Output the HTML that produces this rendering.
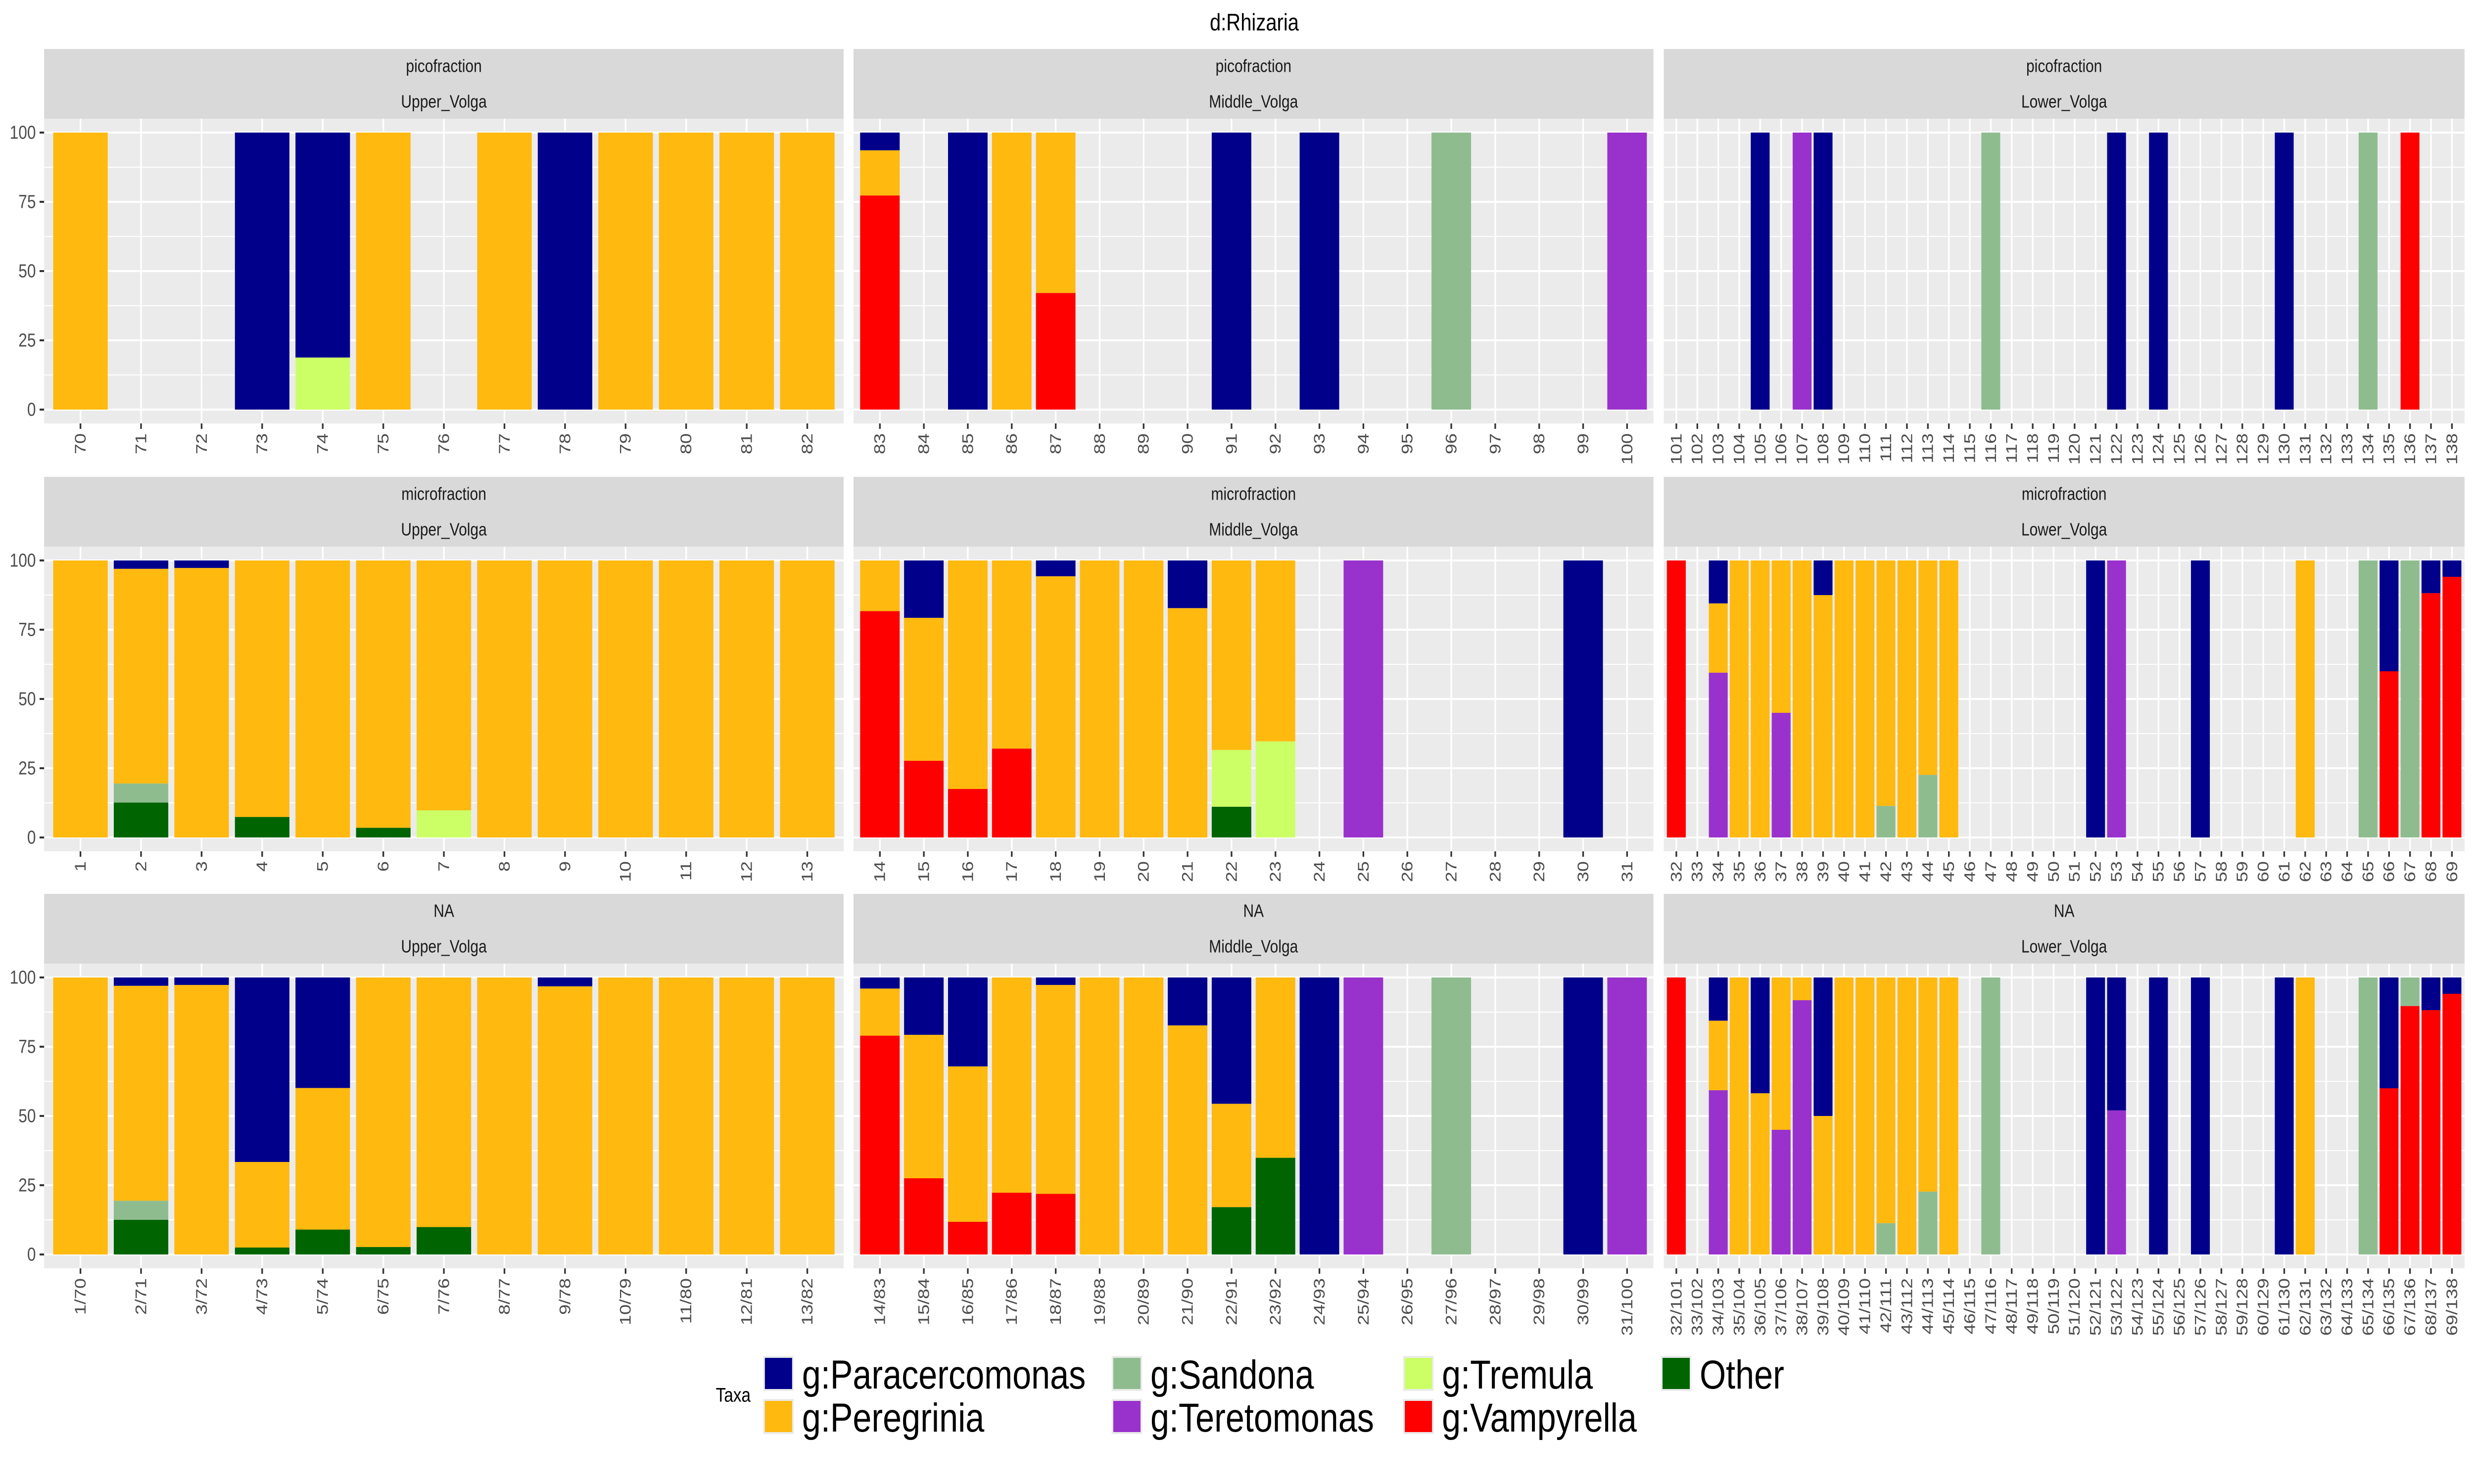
<!DOCTYPE html>
<html><head><meta charset="utf-8"><title>d:Rhizaria</title>
<style>
html,body{margin:0;padding:0;background:#fff;width:100%;height:100%;overflow:hidden;}
svg{display:block;position:absolute;left:0;top:0;width:100vw;height:100vh;font-family:"Liberation Sans",sans-serif;}
</style></head>
<body>
<svg id="chart" viewBox="0 0 6000 3000" preserveAspectRatio="none" xmlns="http://www.w3.org/2000/svg">
<rect width="6000" height="3000" fill="#fff"/>
<text x="3042" y="46" font-size="48" text-anchor="middle" dominant-baseline="central" fill="#000">d:Rhizaria</text>
</svg>
<script>
// ---- taxa (stack order bottom -> top) ----
const taxa = ["Other","g:Vampyrella","g:Tremula","g:Teretomonas","g:Sandona","g:Peregrinia","g:Paracercomonas"];
const taxaColors = ["#006400","#FF0000","#CCFF66","#9932CC","#8FBC8F","#FFB90F","#00008B"];

// ---- categories ----
const catsR1C1 = ["70","71","72","73","74","75","76","77","78","79","80","81","82"];
const catsR1C2 = ["83","84","85","86","87","88","89","90","91","92","93","94","95","96","97","98","99","100"];
const catsR1C3 = ["101","102","103","104","105","106","107","108","109","110","111","112","113","114","115","116","117","118","119","120","121","122","123","124","125","126","127","128","129","130","131","132","133","134","135","136","137","138"];
const catsR2C1 = ["1","2","3","4","5","6","7","8","9","10","11","12","13"];
const catsR2C2 = ["14","15","16","17","18","19","20","21","22","23","24","25","26","27","28","29","30","31"];
const catsR2C3 = ["32","33","34","35","36","37","38","39","40","41","42","43","44","45","46","47","48","49","50","51","52","53","54","55","56","57","58","59","60","61","62","63","64","65","66","67","68","69"];
const catsR3C1 = ["1/70","2/71","3/72","4/73","5/74","6/75","7/76","8/77","9/78","10/79","11/80","12/81","13/82"];
const catsR3C2 = ["14/83","15/84","16/85","17/86","18/87","19/88","20/89","21/90","22/91","23/92","24/93","25/94","26/95","27/96","28/97","29/98","30/99","31/100"];
const catsR3C3 = ["32/101","33/102","34/103","35/104","36/105","37/106","38/107","39/108","40/109","41/110","42/111","43/112","44/113","45/114","46/115","47/116","48/117","49/118","50/119","51/120","52/121","53/122","54/123","55/124","56/125","57/126","58/127","59/128","60/129","61/130","62/131","63/132","64/133","65/134","66/135","67/136","68/137","69/138"];

// ---- series: picofraction / Upper_Volga ----
const r1c1Other = [0,0,0,0,0,0,0,0,0,0,0,0,0];
const r1c1Vamp  = [0,0,0,0,0,0,0,0,0,0,0,0,0];
const r1c1Trem  = [0,0,0,0,18.8,0,0,0,0,0,0,0,0];
const r1c1Teret = [0,0,0,0,0,0,0,0,0,0,0,0,0];
const r1c1Sand  = [0,0,0,0,0,0,0,0,0,0,0,0,0];
const r1c1Pereg = [100,0,0,0,0,100,0,100,0,100,100,100,100];
const r1c1Para  = [0,0,0,100,81.2,0,0,0,100,0,0,0,0];
// picofraction / Middle_Volga
const r1c2Other = [0,0,0,0,0,0,0,0,0,0,0,0,0,0,0,0,0,0];
const r1c2Vamp  = [77.3,0,0,0,42.1,0,0,0,0,0,0,0,0,0,0,0,0,0];
const r1c2Trem  = [0,0,0,0,0,0,0,0,0,0,0,0,0,0,0,0,0,0];
const r1c2Teret = [0,0,0,0,0,0,0,0,0,0,0,0,0,0,0,0,0,100];
const r1c2Sand  = [0,0,0,0,0,0,0,0,0,0,0,0,0,100,0,0,0,0];
const r1c2Pereg = [16.3,0,0,100,57.9,0,0,0,0,0,0,0,0,0,0,0,0,0];
const r1c2Para  = [6.4,0,100,0,0,0,0,0,100,0,100,0,0,0,0,0,0,0];
// picofraction / Lower_Volga
const r1c3Other = [0,0,0,0,0,0,0,0,0,0, 0,0,0,0,0,0,0,0,0,0, 0,0,0,0,0,0,0,0,0,0, 0,0,0,0,0,0,0,0];
const r1c3Vamp  = [0,0,0,0,0,0,0,0,0,0, 0,0,0,0,0,0,0,0,0,0, 0,0,0,0,0,0,0,0,0,0, 0,0,0,0,0,100,0,0];
const r1c3Trem  = [0,0,0,0,0,0,0,0,0,0, 0,0,0,0,0,0,0,0,0,0, 0,0,0,0,0,0,0,0,0,0, 0,0,0,0,0,0,0,0];
const r1c3Teret = [0,0,0,0,0,0,100,0,0,0, 0,0,0,0,0,0,0,0,0,0, 0,0,0,0,0,0,0,0,0,0, 0,0,0,0,0,0,0,0];
const r1c3Sand  = [0,0,0,0,0,0,0,0,0,0, 0,0,0,0,0,100,0,0,0,0, 0,0,0,0,0,0,0,0,0,0, 0,0,0,100,0,0,0,0];
const r1c3Pereg = [0,0,0,0,0,0,0,0,0,0, 0,0,0,0,0,0,0,0,0,0, 0,0,0,0,0,0,0,0,0,0, 0,0,0,0,0,0,0,0];
const r1c3Para  = [0,0,0,0,100,0,0,100,0,0, 0,0,0,0,0,0,0,0,0,0, 0,100,0,100,0,0,0,0,0,100, 0,0,0,0,0,0,0,0];

// ---- microfraction / Upper_Volga ----
const r2c1Other = [0,12.6,0,7.4,0,3.5,0,0,0,0,0,0,0];
const r2c1Vamp  = [0,0,0,0,0,0,0,0,0,0,0,0,0];
const r2c1Trem  = [0,0,0,0,0,0,9.8,0,0,0,0,0,0];
const r2c1Teret = [0,0,0,0,0,0,0,0,0,0,0,0,0];
const r2c1Sand  = [0,6.9,0,0,0,0,0,0,0,0,0,0,0];
const r2c1Pereg = [100,77.5,97.3,92.6,100,96.5,90.2,100,100,100,100,100,100];
const r2c1Para  = [0,3,2.7,0,0,0,0,0,0,0,0,0,0];
// microfraction / Middle_Volga
const r2c2Other = [0,0,0,0,0,0,0,0,11.1,0,0,0,0,0,0,0,0,0];
const r2c2Vamp  = [81.7,27.7,17.5,32.1,0,0,0,0,0,0,0,0,0,0,0,0,0,0];
const r2c2Trem  = [0,0,0,0,0,0,0,0,20.5,34.7,0,0,0,0,0,0,0,0];
const r2c2Teret = [0,0,0,0,0,0,0,0,0,0,0,100,0,0,0,0,0,0];
const r2c2Sand  = [0,0,0,0,0,0,0,0,0,0,0,0,0,0,0,0,0,0];
const r2c2Pereg = [18.3,51.6,82.5,67.9,94.3,100,100,82.8,68.4,65.3,0,0,0,0,0,0,0,0];
const r2c2Para  = [0,20.7,0,0,5.7,0,0,17.2,0,0,0,0,0,0,0,0,100,0];
// microfraction / Lower_Volga
const r2c3Other = [0,0,0,0,0,0,0,0,0,0, 0,0,0,0,0,0,0,0,0,0, 0,0,0,0,0,0,0,0,0,0, 0,0,0,0,0,0,0,0];
const r2c3Vamp  = [100,0,0,0,0,0,0,0,0,0, 0,0,0,0,0,0,0,0,0,0, 0,0,0,0,0,0,0,0,0,0, 0,0,0,0,60,0,88.2,94.1];
const r2c3Trem  = [0,0,0,0,0,0,0,0,0,0, 0,0,0,0,0,0,0,0,0,0, 0,0,0,0,0,0,0,0,0,0, 0,0,0,0,0,0,0,0];
const r2c3Teret = [0,0,59.5,0,0,45,0,0,0,0, 0,0,0,0,0,0,0,0,0,0, 0,100,0,0,0,0,0,0,0,0, 0,0,0,0,0,0,0,0];
const r2c3Sand  = [0,0,0,0,0,0,0,0,0,0, 11.4,0,22.6,0,0,0,0,0,0,0, 0,0,0,0,0,0,0,0,0,0, 0,0,0,100,0,100,0,0];
const r2c3Pereg = [0,0,25,100,100,55,100,87.5,100,100, 88.6,100,77.4,100,0,0,0,0,0,0, 0,0,0,0,0,0,0,0,0,0, 100,0,0,0,0,0,0,0];
const r2c3Para  = [0,0,15.5,0,0,0,0,12.5,0,0, 0,0,0,0,0,0,0,0,0,0, 100,0,0,0,0,100,0,0,0,0, 0,0,0,0,40,0,11.8,5.9];

// ---- NA / Upper_Volga ----
const r3c1Other = [0,12.5,0,2.5,9,2.7,9.9,0,0,0,0,0,0];
const r3c1Vamp  = [0,0,0,0,0,0,0,0,0,0,0,0,0];
const r3c1Trem  = [0,0,0,0,0,0,0,0,0,0,0,0,0];
const r3c1Teret = [0,0,0,0,0,0,0,0,0,0,0,0,0];
const r3c1Sand  = [0,6.9,0,0,0,0,0,0,0,0,0,0,0];
const r3c1Pereg = [100,77.6,97.3,30.9,51.1,97.3,90.1,100,96.8,100,100,100,100];
const r3c1Para  = [0,3,2.7,66.6,39.9,0,0,0,3.2,0,0,0,0];
// NA / Middle_Volga
const r3c2Other = [0,0,0,0,0,0,0,0,17.1,34.9,0,0,0,0,0,0,0,0];
const r3c2Vamp  = [79,27.5,11.8,22.3,21.9,0,0,0,0,0,0,0,0,0,0,0,0,0];
const r3c2Trem  = [0,0,0,0,0,0,0,0,0,0,0,0,0,0,0,0,0,0];
const r3c2Teret = [0,0,0,0,0,0,0,0,0,0,0,100,0,0,0,0,0,100];
const r3c2Sand  = [0,0,0,0,0,0,0,0,0,0,0,0,0,100,0,0,0,0];
const r3c2Pereg = [17,51.8,56.1,77.7,75.4,100,100,82.7,37.3,65.1,0,0,0,0,0,0,0,0];
const r3c2Para  = [4,20.7,32.1,0,2.7,0,0,17.3,45.6,0,100,0,0,0,0,0,100,0];
// NA / Lower_Volga
const r3c3Other = [0,0,0,0,0,0,0,0,0,0, 0,0,0,0,0,0,0,0,0,0, 0,0,0,0,0,0,0,0,0,0, 0,0,0,0,0,0,0,0];
const r3c3Vamp  = [100,0,0,0,0,0,0,0,0,0, 0,0,0,0,0,0,0,0,0,0, 0,0,0,0,0,0,0,0,0,0, 0,0,0,0,60,89.7,88.2,94.1];
const r3c3Trem  = [0,0,0,0,0,0,0,0,0,0, 0,0,0,0,0,0,0,0,0,0, 0,0,0,0,0,0,0,0,0,0, 0,0,0,0,0,0,0,0];
const r3c3Teret = [0,0,59.3,0,0,45,91.8,0,0,0, 0,0,0,0,0,0,0,0,0,0, 0,52,0,0,0,0,0,0,0,0, 0,0,0,0,0,0,0,0];
const r3c3Sand  = [0,0,0,0,0,0,0,0,0,0, 11.3,0,22.7,0,0,100,0,0,0,0, 0,0,0,0,0,0,0,0,0,0, 0,0,0,100,0,10.3,0,0];
const r3c3Pereg = [0,0,25.1,100,58.2,55,8.2,50,100,100, 88.7,100,77.3,100,0,0,0,0,0,0, 0,0,0,0,0,0,0,0,0,0, 100,0,0,0,0,0,0,0];
const r3c3Para  = [0,0,15.6,0,41.8,0,0,50,0,0, 0,0,0,0,0,0,0,0,0,0, 100,48,0,100,0,100,0,0,0,100, 0,0,0,0,40,0,11.8,5.9];

const yTicks = [0,25,50,75,100];
const yMinor = [12.5,37.5,62.5,87.5];

const NS = "http://www.w3.org/2000/svg";
const svg = document.getElementById("chart");
function mk(tag, attrs, parent){
  const e = document.createElementNS(NS, tag);
  for (const k in attrs) e.setAttribute(k, attrs[k]);
  (parent||svg).appendChild(e);
  return e;
}

const colX = [[107,2046],[2070,4010],[4035,5977]];
const stripTop = [99,964,1807];
const STRIP_H = 141, PANEL_H = 616;

function drawPanel(r, c, fraction, region, cats, series){
  const x0 = colX[c][0], x1 = colX[c][1], W = x1 - x0;
  const sTop = stripTop[r], pTop = sTop + STRIP_H, pBot = pTop + PANEL_H;
  const g = mk("g", {});
  
  
  const yS = v => pTop + 28 + (100 - v) * 5.6;
  const unit = W / (cats.length + 0.2);
  const xS = i => x0 + (0.6 + i) * unit;

  const strip = mk("rect", {x:x0, y:sTop, width:W, height:STRIP_H, fill:"#D9D9D9"}, g);
  
  
  const t1 = mk("text", {x:(x0+x1)/2, y:sTop+35, "font-size":36, fill:"#1A1A1A", "text-anchor":"middle", "dominant-baseline":"central"}, g);
  t1.textContent = fraction;
  
  
  const t2 = mk("text", {x:(x0+x1)/2, y:sTop+107, "font-size":36, fill:"#1A1A1A", "text-anchor":"middle", "dominant-baseline":"central"}, g);
  t2.textContent = region;
  
  

  const bg = mk("rect", {x:x0, y:pTop, width:W, height:PANEL_H, fill:"#EBEBEB"}, g);
  
  
  yMinor.forEach(v => {
    const l = mk("line", {x1:x0, x2:x1, y1:yS(v), y2:yS(v), stroke:"#fff", "stroke-width":2}, g);
    
    
  });
  yTicks.forEach(v => {
    const l = mk("line", {x1:x0, x2:x1, y1:yS(v), y2:yS(v), stroke:"#fff", "stroke-width":4}, g);
    
    
  });
  cats.forEach((cat, i) => {
    const l = mk("line", {x1:xS(i), x2:xS(i), y1:pTop, y2:pBot, stroke:"#fff", "stroke-width":4}, g);
    
    
  });
  cats.forEach((cat, i) => {
    let acc = 0;
    series.forEach((arr, s) => {
      const v = arr[i];
      if (!v) return;
      const yTop = yS(acc + v), yBot = yS(acc);
      const b = mk("rect", {x:xS(i) - 0.45*unit, y:yTop, width:0.9*unit, height:yBot - yTop, fill:taxaColors[s]}, g);
      
      
      acc += v;
    });
  });
  cats.forEach((cat, i) => {
    const tk = mk("line", {x1:xS(i), x2:xS(i), y1:pBot, y2:pBot+11, stroke:"#333", "stroke-width":4}, g);
    
    
    const lb = mk("text", {x:xS(i), y:pBot+20, "font-size":38, fill:"#4D4D4D", "text-anchor":"end", "dominant-baseline":"central", transform:"rotate(-90 " + xS(i) + " " + (pBot+20) + ")"}, g);
    lb.textContent = cat;
    
    
  });
  if (c === 0) {
    yTicks.forEach(v => {
      const tk = mk("line", {x1:x0-11, x2:x0, y1:yS(v), y2:yS(v), stroke:"#333", "stroke-width":4}, g);
      
      
      const lb = mk("text", {x:x0-20, y:yS(v), "font-size":38, fill:"#4D4D4D", "text-anchor":"end", "dominant-baseline":"central"}, g);
      lb.textContent = String(v);
      
      
    });
  }
}

drawPanel(0,0,"picofraction","Upper_Volga",catsR1C1,[r1c1Other,r1c1Vamp,r1c1Trem,r1c1Teret,r1c1Sand,r1c1Pereg,r1c1Para]);
drawPanel(0,1,"picofraction","Middle_Volga",catsR1C2,[r1c2Other,r1c2Vamp,r1c2Trem,r1c2Teret,r1c2Sand,r1c2Pereg,r1c2Para]);
drawPanel(0,2,"picofraction","Lower_Volga",catsR1C3,[r1c3Other,r1c3Vamp,r1c3Trem,r1c3Teret,r1c3Sand,r1c3Pereg,r1c3Para]);
drawPanel(1,0,"microfraction","Upper_Volga",catsR2C1,[r2c1Other,r2c1Vamp,r2c1Trem,r2c1Teret,r2c1Sand,r2c1Pereg,r2c1Para]);
drawPanel(1,1,"microfraction","Middle_Volga",catsR2C2,[r2c2Other,r2c2Vamp,r2c2Trem,r2c2Teret,r2c2Sand,r2c2Pereg,r2c2Para]);
drawPanel(1,2,"microfraction","Lower_Volga",catsR2C3,[r2c3Other,r2c3Vamp,r2c3Trem,r2c3Teret,r2c3Sand,r2c3Pereg,r2c3Para]);
drawPanel(2,0,"NA","Upper_Volga",catsR3C1,[r3c1Other,r3c1Vamp,r3c1Trem,r3c1Teret,r3c1Sand,r3c1Pereg,r3c1Para]);
drawPanel(2,1,"NA","Middle_Volga",catsR3C2,[r3c2Other,r3c2Vamp,r3c2Trem,r3c2Teret,r3c2Sand,r3c2Pereg,r3c2Para]);
drawPanel(2,2,"NA","Lower_Volga",catsR3C3,[r3c3Other,r3c3Vamp,r3c3Trem,r3c3Teret,r3c3Sand,r3c3Pereg,r3c3Para]);

const legendOrder = [6,5,4,3,2,1,0];
const legCols = [1855,2700,3407,4032];
const legRows = [2745,2832];
const lg = mk("g", {});


const lt = mk("text", {x:1736, y:2820, "font-size":40, fill:"#000", "dominant-baseline":"central"}, lg);
lt.textContent = "Taxa";


legendOrder.forEach((ti, k) => {
  const cx = legCols[Math.floor(k/2)], cy = legRows[k%2];
  const e = mk("g", {}, lg);
  
  
  mk("rect", {x:cx-4, y:cy-4, width:74, height:71, fill:"#EBEBEB"}, e);
  mk("rect", {x:cx, y:cy, width:66, height:63, fill:taxaColors[ti]}, e);
  const tx = mk("text", {x:cx+90, y:cy+34, "font-size":82, fill:"#000", "dominant-baseline":"central"}, e);
  tx.textContent = taxa[ti];
});
</script>
</body></html>
